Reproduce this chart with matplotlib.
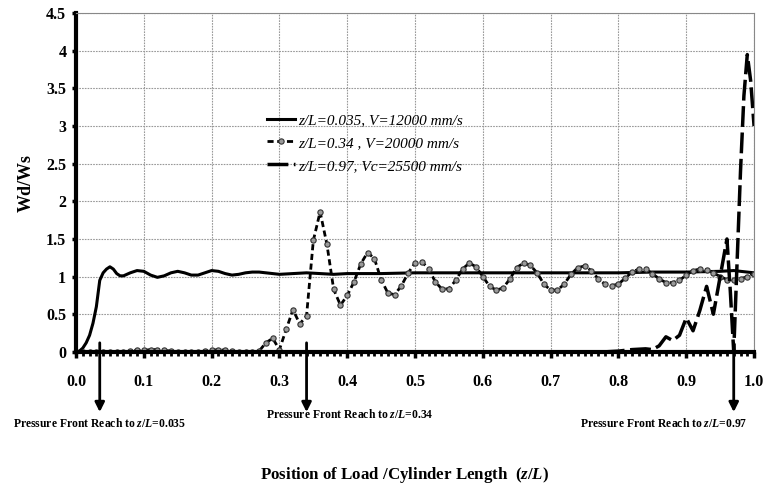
import numpy as np
import matplotlib
matplotlib.use("Agg")
import matplotlib.pyplot as plt

plt.rcParams["font.family"] = "Liberation Serif"
plt.rcParams["mathtext.fontset"] = "custom"
plt.rcParams["mathtext.it"] = "Liberation Serif:italic:bold"
plt.rcParams["mathtext.rm"] = "Liberation Serif:bold"

# curve 1: z/L=0.035, V=12000 mm/s
x1 = [0.0, 0.005, 0.01, 0.015, 0.02, 0.025, 0.03, 0.035, 0.04, 0.045, 0.05, 0.055,
      0.06, 0.065, 0.07, 0.08, 0.09, 0.10, 0.11, 0.12, 0.13, 0.14, 0.15, 0.16, 0.17,
      0.18, 0.19, 0.20, 0.21, 0.22, 0.23, 0.24, 0.25, 0.26, 0.27, 0.28, 0.29, 0.30,
      0.32, 0.34, 0.36, 0.38, 0.40, 0.45, 0.50, 0.55, 0.60, 0.65, 0.70, 0.75, 0.80,
      0.85, 0.90, 0.95, 0.97, 1.0]
y1 = [0.0, 0.01, 0.05, 0.12, 0.22, 0.38, 0.6, 0.95, 1.05, 1.1, 1.13, 1.1,
      1.04, 1.01, 1.01, 1.05, 1.08, 1.07, 1.02, 0.99, 1.01, 1.05, 1.07, 1.05, 1.02,
      1.02, 1.05, 1.08, 1.07, 1.04, 1.02, 1.03, 1.05, 1.06, 1.06, 1.05, 1.04, 1.03,
      1.04, 1.05, 1.04, 1.03, 1.04, 1.04, 1.05, 1.05, 1.05, 1.05, 1.05, 1.05, 1.05,
      1.06, 1.06, 1.07, 1.08, 1.05]

# curve 2: z/L=0.34, V=20000 mm/s
x2 = [i / 100 for i in range(101)]
y2 = [0, 0, 0, 0, 0, 0, 0, 0, 0.01, 0.02,
      0.02, 0.03, 0.03, 0.02, 0.01, 0, 0, 0, 0, 0.01,
      0.02, 0.03, 0.02, 0.01, 0, 0, 0, 0.01, 0.12, 0.18,
      0.03, 0.3, 0.56, 0.37, 0.48, 1.48, 1.86, 1.43, 0.83, 0.62,
      0.75, 0.93, 1.17, 1.32, 1.24, 0.96, 0.78, 0.76, 0.88, 1.05,
      1.18, 1.2, 1.1, 0.93, 0.83, 0.84, 0.95, 1.1, 1.18, 1.13,
      1.0, 0.87, 0.82, 0.85, 0.97, 1.12, 1.18, 1.15, 1.05, 0.9,
      0.82, 0.82, 0.9, 1.03, 1.12, 1.14, 1.08, 0.97, 0.9, 0.88,
      0.9, 0.98, 1.06, 1.1, 1.1, 1.04, 0.97, 0.92, 0.92, 0.95,
      1.02, 1.08, 1.1, 1.09, 1.05, 1.0, 0.96, 0.95, 0.97, 1.0,
      1.04]

# curve 3: z/L=0.97, Vc=25500 mm/s
x3 = [0.0, 0.2, 0.4, 0.6, 0.78, 0.8, 0.82, 0.84, 0.85, 0.86, 0.87, 0.88, 0.89,
      0.9, 0.91, 0.92, 0.93, 0.94, 0.95, 0.96, 0.965, 0.97, 0.975, 0.98, 0.985,
      0.99, 0.995, 1.0]
y3 = [0.0, 0.0, 0.0, 0.0, 0.0, 0.01, 0.03, 0.04, 0.03, 0.08, 0.2, 0.15, 0.22,
      0.45, 0.28, 0.55, 0.87, 0.5, 1.0, 1.5, 0.8, 0.0, 1.2, 2.4, 3.4,
      3.95, 3.6, 3.0]

labels = ["z/L=0.035, V=12000 mm/s", "z/L=0.34 , V=20000 mm/s", "z/L=0.97, Vc=25500 mm/s"]

front_x = [0.035, 0.34, 0.97]
front_text = [r"Pressure Front Reach to $z/L$=0.035",
              r"Pressure Front Reach to $z/L$=0.34",
              r"Pressure Front Reach to $z/L$=0.97"]
front_text_x = [0.035, 0.404, 0.867]
front_text_y = [-0.95, -0.83, -0.95]

fig = plt.figure(figsize=(7.64, 4.88), dpi=100)
ax = fig.add_axes([0.0995, 0.279, 0.8875, 0.694])

ax.plot(x1, y1, color="black", lw=2.2, label=labels[0])
ax.plot(x2, y2, color="black", lw=2.0, ls=(0, (2.2, 1.3)), marker="o", ms=3.8,
        mfc="#9a9a9a", mec="#333333", mew=0.8, label=labels[1])
ax.plot(x3, y3, color="black", lw=2.5, ls=(0, (6, 1.6)), label=labels[2])

ax.set_xlim(0, 1.0)
ax.set_ylim(0, 4.5)
ax.set_xticks(np.arange(0, 1.01, 0.1))
ax.set_xticks(np.arange(0, 1.001, 0.01), minor=True)
ax.set_yticks(np.arange(0, 4.51, 0.5))
ax.set_xticklabels(["%.1f" % v for v in np.arange(0, 1.01, 0.1)])
ax.set_yticklabels(["0", "0.5", "1", "1.5", "2", "2.5", "3", "3.5", "4", "4.5"])
for lab in ax.get_xticklabels() + ax.get_yticklabels():
    lab.set_fontweight("bold")
    lab.set_fontsize(11.5)

ax.grid(True, color="#999999", ls=(0, (1.5, 1)), lw=0.8)
ax.set_axisbelow(True)
for s in ["top", "right"]:
    ax.spines[s].set_color("#888888")
    ax.spines[s].set_linewidth(0.8)
for s in ["left", "bottom"]:
    ax.spines[s].set_color("black")
    ax.spines[s].set_linewidth(3)
ax.tick_params(axis="x", which="major", direction="out", length=4, width=2.5, pad=12)
ax.tick_params(axis="x", which="minor", direction="out", length=3, width=2)
ax.tick_params(axis="y", direction="out", length=3, width=2.5, pad=4)

ax.set_ylabel("Wd/Ws", fontsize=13, fontweight="bold", labelpad=8)

leg = ax.legend(loc="upper left", bbox_to_anchor=(0.262, 0.745), frameon=False,
                handlelength=1.8, handletextpad=0.2, labelspacing=0.6,
                prop={"family": "Liberation Serif", "style": "italic", "size": 11})

for fx, tx, ty, t in zip(front_x, front_text_x, front_text_y, front_text):
    ax.annotate("", xy=(fx, -0.8), xytext=(fx, 0.12), annotation_clip=False,
                arrowprops=dict(arrowstyle="-|>", color="black", lw=2,
                                mutation_scale=14, shrinkA=0, shrinkB=0))
    ax.text(tx, ty, t, ha="center", va="center", fontsize=8.4, fontweight="bold",
            clip_on=False)

fig.text(0.53, 0.027, r"Position of Load /Cylinder Length  ($z/L$)", ha="center",
         va="center", fontsize=12.2, fontweight="bold")

fig.savefig("out.png", dpi=100)
